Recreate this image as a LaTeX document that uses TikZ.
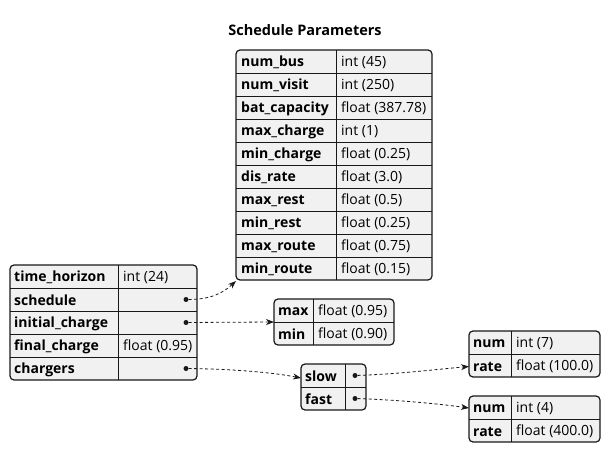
\documentclass[tikz,border=0pt]{standalone}
\usepackage{fontspec}
\setmainfont{Open Sans}
\usetikzlibrary{arrows.meta}
\definecolor{cellfill}{HTML}{F1F1F1}
\definecolor{linecol}{HTML}{181818}
\tikzset{
  tbl/.style={draw=linecol, fill=cellfill, line width=1.2pt, rounded corners=4pt},
  rule/.style={draw=linecol, line width=0.9pt},
  key/.style={anchor=west, inner sep=0pt, font=\fontsize{14}{16}\selectfont\bfseries},
  val/.style={anchor=west, inner sep=0pt, font=\fontsize{14}{16}\selectfont},
  dot/.style={circle, fill=linecol, inner sep=0pt, minimum size=5pt},
  link/.style={draw=linecol, line width=0.8pt, dash pattern=on 3pt off 2.5pt,
    -{Stealth[length=8pt,width=6pt,inset=2.5pt]}},
}
\begin{document}
\begin{tikzpicture}[x=1pt, y=-1pt]
    \useasboundingbox (0,0) rectangle (611,452);

    \node [font=\fontsize{14.5}{16}\selectfont\bfseries] (title) at (305,30) {Schedule Parameters};

    % schedule parameters
    \draw [tbl] (236,50) rectangle (432,280);
    \foreach \y in {73,96,...,257} \draw [rule] (236,\y) -- (432,\y);
    \draw [rule] (336,50) -- (336,280);
    \foreach \k/\v [count=\i from 0] in {num\_bus/int (45), num\_visit/int (250),
        bat\_capacity/float (387.78), max\_charge/int (1), min\_charge/float (0.25),
        dis\_rate/float (3.0), max\_rest/float (0.5), min\_rest/float (0.25),
        max\_route/float (0.75), min\_route/float (0.15)} {
      \node [key] (pk\i) at (241,62.5+23*\i) {\k};
      \node [val] (pv\i) at (341,62.5+23*\i) {\v};
    }

    % root
    \draw [tbl] (10,265) rectangle (197,380);
    \foreach \y in {288,311,334,357} \draw [rule] (10,\y) -- (197,\y);
    \draw [rule] (118,265) -- (118,380);
    \foreach \k [count=\i from 0] in {time\_horizon, schedule, initial\_charge,
        final\_charge, chargers}
      \node [key] (rk\i) at (14,277.5+23*\i) {\k};
    \node [val] (rv0) at (123,277.5) {int (24)};
    \node [val] (rv3) at (123,346.5) {float (0.95)};
    \node [dot] (dsched) at (186,299.5) {};
    \node [dot] (dinit) at (186,322.5) {};
    \node [dot] (dchg) at (186,368.5) {};

    % initial charge
    \draw [tbl] (274,299) rectangle (394,345);
    \draw [rule] (274,322) -- (394,322);
    \draw [rule] (313,299) -- (313,345);
    \node [key] (ik0) at (278,311.5) {max};
    \node [val] (iv0) at (318,311.5) {float (0.95)};
    \node [key] (ik1) at (278,334.5) {min};
    \node [val] (iv1) at (318,334.5) {float (0.90)};

    % chargers
    \draw [tbl] (301,364) rectangle (366,410);
    \draw [rule] (301,387) -- (366,387);
    \draw [rule] (345,364) -- (345,410);
    \node [key] (ck0) at (305,376.5) {slow};
    \node [key] (ck1) at (305,399.5) {fast};
    \node [dot] (dslow) at (355,375.5) {};
    \node [dot] (dfast) at (355,398.5) {};

    % slow
    \draw [tbl] (469,331) rectangle (600,377);
    \draw [rule] (469,354) -- (600,354);
    \draw [rule] (511,331) -- (511,377);
    \node [key] (sk0) at (473,343.5) {num};
    \node [val] (sv0) at (516,343.5) {int (7)};
    \node [key] (sk1) at (473,366.5) {rate};
    \node [val] (sv1) at (516,366.5) {float (100.0)};

    % fast
    \draw [tbl] (469,396) rectangle (600,442);
    \draw [rule] (469,419) -- (600,419);
    \draw [rule] (511,396) -- (511,442);
    \node [key] (fk0) at (473,408.5) {num};
    \node [val] (fv0) at (516,408.5) {int (4)};
    \node [key] (fk1) at (473,431.5) {rate};
    \node [val] (fv1) at (516,431.5) {float (400.0)};

    % link ends
    \coordinate (toparams) at (236,281);
    \coordinate (toinit) at (274,322);
    \coordinate (tochg) at (301,378);
    \coordinate (toslow) at (469,366.5);
    \coordinate (tofast) at (469,408);

    \draw [link] (dsched) .. controls (212,299.5) and (224,292) .. (toparams);
    \draw [link] (dinit) -- (toinit);
    \draw [link] (dchg) .. controls (230,369) and (270,372) .. (tochg);
    \draw [link] (dslow) .. controls (400,374) and (440,369) .. (toslow);
    \draw [link] (dfast) .. controls (400,400) and (440,404) .. (tofast);
\end{tikzpicture}
\end{document}
